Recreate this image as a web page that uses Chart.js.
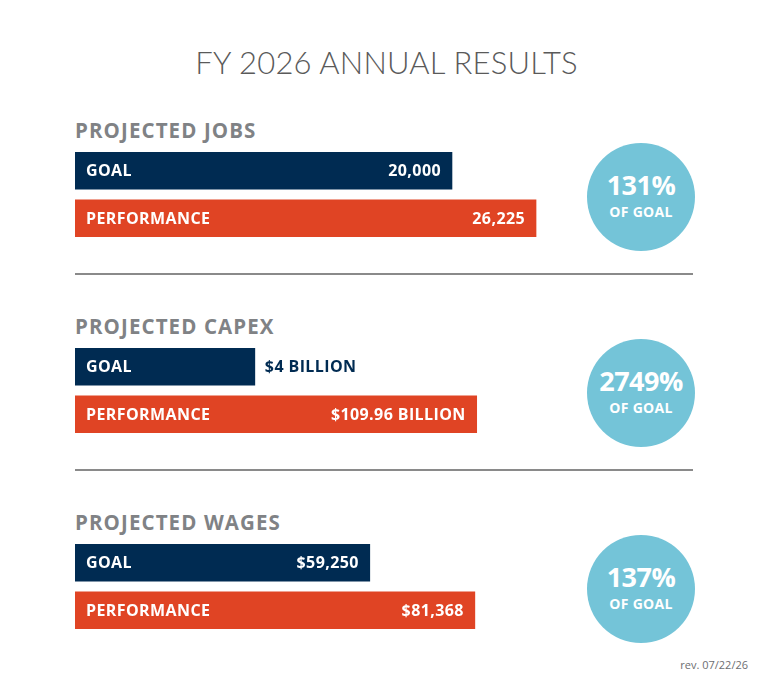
<!DOCTYPE html>
<html>
<head>
<meta charset="utf-8">
<script src="https://cdn.jsdelivr.net/npm/chart.js@4.4.1/dist/chart.umd.min.js"></script>
<style>
  html,body{margin:0;padding:0;background:#fff;}
  #wrap{position:relative;width:773px;height:686px;overflow:hidden;font-family:"Open Sans","Lato",sans-serif;}
  .title{position:absolute;left:0;width:773px;top:43px;text-align:center;font-family:"Lato",sans-serif;font-weight:300;font-size:31px;color:#5a5a5a;letter-spacing:0.2px;}
  .head{position:absolute;left:75px;font-weight:700;font-size:20.5px;color:#808285;letter-spacing:1.1px;}
  .line{position:absolute;left:75px;width:618px;height:2px;background:#8a8a8a;}
  .circle{position:absolute;width:108px;height:108px;border-radius:50%;background:#74c4d8;color:#fff;text-align:center;font-weight:700;}
  .circle .pct{position:absolute;left:0;width:108px;top:25px;font-size:27px;line-height:34px;letter-spacing:-0.5px;}
  .circle .of{position:absolute;left:0;width:108px;top:60px;font-size:14px;line-height:18px;letter-spacing:0.3px;}
  .rev{position:absolute;right:25px;top:657px;font-size:11px;color:#6d6e71;}
  canvas{position:absolute;left:75px;}
</style>
</head>
<body>
<div id="wrap">
  <div class="title">FY 2026 ANNUAL RESULTS</div>
  <div class="rev">rev. 07/22/26</div>
</div>
<script>
// ---- data ----
const categories = ["GOAL", "PERFORMANCE"];
const sectionTitles = ["PROJECTED JOBS", "PROJECTED CAPEX", "PROJECTED WAGES"];
const goalLabels = ["20,000", "$4 BILLION", "$59,250"];
const performanceLabels = ["26,225", "$109.96 BILLION", "$81,368"];
// bar lengths as drawn (percent of full track width)
const goalBarLength = [61.0, 29.1, 47.7];
const performanceBarLength = [74.6, 65.0, 64.7];
const percentOfGoal = ["131%", "2749%", "137%"];
const circleSubLabel = "OF GOAL";

const NAVY = "#002b52";
const ORANGE = "#e04424";
const FONT = '"Open Sans","Lato",sans-serif';

const wrap = document.getElementById("wrap");
const sectionTop = [0, 196, 392];

const labelPlugin = {
  id: "barLabels",
  afterDatasetsDraw(chart, args, opts) {
    const ctx = chart.ctx;
    const meta = chart.getDatasetMeta(0);
    ctx.save();
    ctx.font = "700 16px " + FONT;
    ctx.textBaseline = "middle";
    if ("letterSpacing" in ctx) ctx.letterSpacing = "0.4px";
    meta.data.forEach((bar, i) => {
      const left = bar.base;
      const right = bar.x;
      const y = bar.y + 1;
      const cat = chart.data.labels[i];
      const val = opts.values[i];
      ctx.fillStyle = "#ffffff";
      ctx.textAlign = "left";
      ctx.fillText(cat, left + 11, y);
      const catW = ctx.measureText(cat).width;
      const valW = ctx.measureText(val).width;
      if (right - left - 22 - catW - 60 > valW) {
        ctx.textAlign = "right";
        ctx.fillText(val, right - 11, y);
      } else {
        ctx.fillStyle = chart.data.datasets[0].backgroundColor[i];
        ctx.textAlign = "left";
        ctx.fillText(val, right + 10, y);
      }
    });
    ctx.restore();
  }
};

sectionTitles.forEach((t, s) => {
  const off = sectionTop[s];
  const h = document.createElement("div");
  h.className = "head";
  h.style.top = (116 + off) + "px";
  h.textContent = t;
  wrap.appendChild(h);

  if (s < 2) {
    const ln = document.createElement("div");
    ln.className = "line";
    ln.style.top = (273 + off) + "px";
    wrap.appendChild(ln);
  }

  const c = document.createElement("div");
  c.className = "circle";
  c.style.left = (641 - 54) + "px";
  c.style.top = (197 - 54 + off) + "px";
  c.innerHTML = '<div class="pct"></div><div class="of"></div>';
  c.querySelector(".pct").textContent = percentOfGoal[s];
  c.querySelector(".of").textContent = circleSubLabel;
  wrap.appendChild(c);

  const cv = document.createElement("canvas");
  cv.width = 618; cv.height = 95;
  cv.style.width = "618px"; cv.style.height = "95px";
  cv.style.top = (147 + off) + "px";
  wrap.appendChild(cv);

  new Chart(cv, {
    type: "bar",
    data: {
      labels: categories,
      datasets: [{
        data: [goalBarLength[s], performanceBarLength[s]],
        backgroundColor: [NAVY, ORANGE],
        borderWidth: 0,
        barThickness: 37
      }]
    },
    options: {
      indexAxis: "y",
      responsive: false,
      animation: false,
      devicePixelRatio: 1,
      layout: { padding: 0 },
      scales: {
        x: { display: false, min: 0, max: 100 },
        y: { display: false }
      },
      plugins: {
        legend: { display: false },
        tooltip: { enabled: false },
        barLabels: { values: [goalLabels[s], performanceLabels[s]] }
      }
    },
    plugins: [labelPlugin]
  });
});
</script>
</body>
</html>
